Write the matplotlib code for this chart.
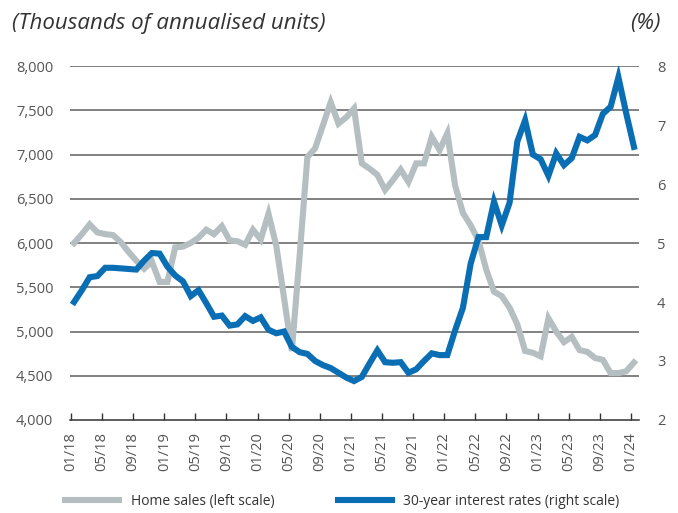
import numpy as np
import matplotlib
matplotlib.use("Agg")
import matplotlib.pyplot as plt

plt.rcParams["font.family"] = ["Open Sans", "DejaVu Sans"]

# monthly data, 01/18 .. 01/24
home_sales = [6000, 6100, 6210, 6120, 6100, 6090, 6010, 5900, 5800, 5710,
              5790, 5560, 5560, 5950, 5960, 6000, 6060, 6150, 6100, 6190,
              6030, 6020, 5980, 6150, 6040, 6330, 5970, 5380, 4780, 5850,
              6970, 7070, 7330, 7590, 7350, 7420, 7520, 6900, 6840, 6770,
              6600, 6710, 6830, 6690, 6900, 6900, 7200, 7050, 7240, 6650,
              6340, 6200, 6030, 5700, 5450, 5400, 5270, 5080, 4780, 4760,
              4720, 5150, 5000, 4880, 4940, 4790, 4770, 4700, 4680, 4530,
              4530, 4550, 4650]
rates = [4.00, 4.20, 4.42, 4.44, 4.58, 4.58, 4.57, 4.56, 4.55, 4.70,
         4.83, 4.82, 4.60, 4.45, 4.35, 4.10, 4.20, 3.98, 3.75, 3.77,
         3.60, 3.62, 3.76, 3.68, 3.74, 3.53, 3.47, 3.50, 3.24, 3.15,
         3.12, 3.00, 2.93, 2.88, 2.80, 2.72, 2.66, 2.73, 2.96, 3.18,
         2.98, 2.97, 2.98, 2.80, 2.86, 3.00, 3.13, 3.10, 3.10, 3.52,
         3.90, 4.65, 5.10, 5.10, 5.70, 5.30, 5.68, 6.72, 7.08, 6.50,
         6.42, 6.14, 6.52, 6.32, 6.44, 6.80, 6.74, 6.83, 7.19, 7.31,
         7.81, 7.20, 6.63]
tick_labels = ["01/18", "05/18", "09/18", "01/19", "05/19", "09/19", "01/20",
               "05/20", "09/20", "01/21", "05/21", "09/21", "01/22", "05/22",
               "09/22", "01/23", "05/23", "09/23", "01/24"]

x = np.arange(len(home_sales)) + 0.4
txt = "#555555"

fig = plt.figure(figsize=(6.78, 5.13), dpi=100)
ax = fig.add_axes([0.1032, 0.1813, 0.8393, 0.69])
ax2 = ax.twinx()

l1, = ax.plot(x, home_sales, color="#b5bfc2", lw=4.4, solid_joinstyle="miter")
l2, = ax2.plot(x, rates, color="#0a6eb4", lw=4.4, solid_joinstyle="miter")

ax.set_ylim(4000, 8000)
ax2.set_ylim(2, 8)
ax.set_xlim(-0.13, 73.05)
ax.set_yticks(np.arange(4000, 8001, 500))
ax.set_yticklabels([f"{v:,}" for v in range(4000, 8001, 500)])
ax2.set_yticks(range(2, 9))
for yv in range(4500, 8001, 500):
    ax.axhline(yv, color="#5f5f5f", lw=1.1, zorder=0)

ax.set_xticks(np.arange(0, 73, 4))
ax.set_xticklabels(tick_labels, rotation=90)

for a in (ax, ax2):
    for s in a.spines.values():
        s.set_visible(False)
    a.tick_params(axis="y", length=0, labelsize=10.5, labelcolor=txt)
ax.spines["bottom"].set_visible(True)
ax.spines["bottom"].set_color("#333333")
ax.spines["bottom"].set_linewidth(1.1)
ax.tick_params(axis="y", pad=12)
ax2.tick_params(axis="y", pad=13)
ax.tick_params(axis="x", direction="in", length=5, width=1, color="#333333",
               labelsize=10.5, labelcolor=txt, pad=9)
ax2.set_zorder(ax.get_zorder() + 1)

fig.text(0.017, 0.955, "(Thousands of annualised units)", fontsize=16,
         style="italic", color="#333333", va="center")
fig.text(0.975, 0.955, "(%)", fontsize=16, style="italic",
         color="#333333", va="center", ha="right")

fig.legend([l1, l2],
           ["Home sales (left scale)", "30-year interest rates (right scale)"],
           loc="center", bbox_to_anchor=(0.505, 0.022), ncol=2, frameon=False,
           fontsize=10, handlelength=3.9, handletextpad=0.8, columnspacing=4.6,
           labelcolor="#333333")

fig.savefig("out.png", dpi=100)
